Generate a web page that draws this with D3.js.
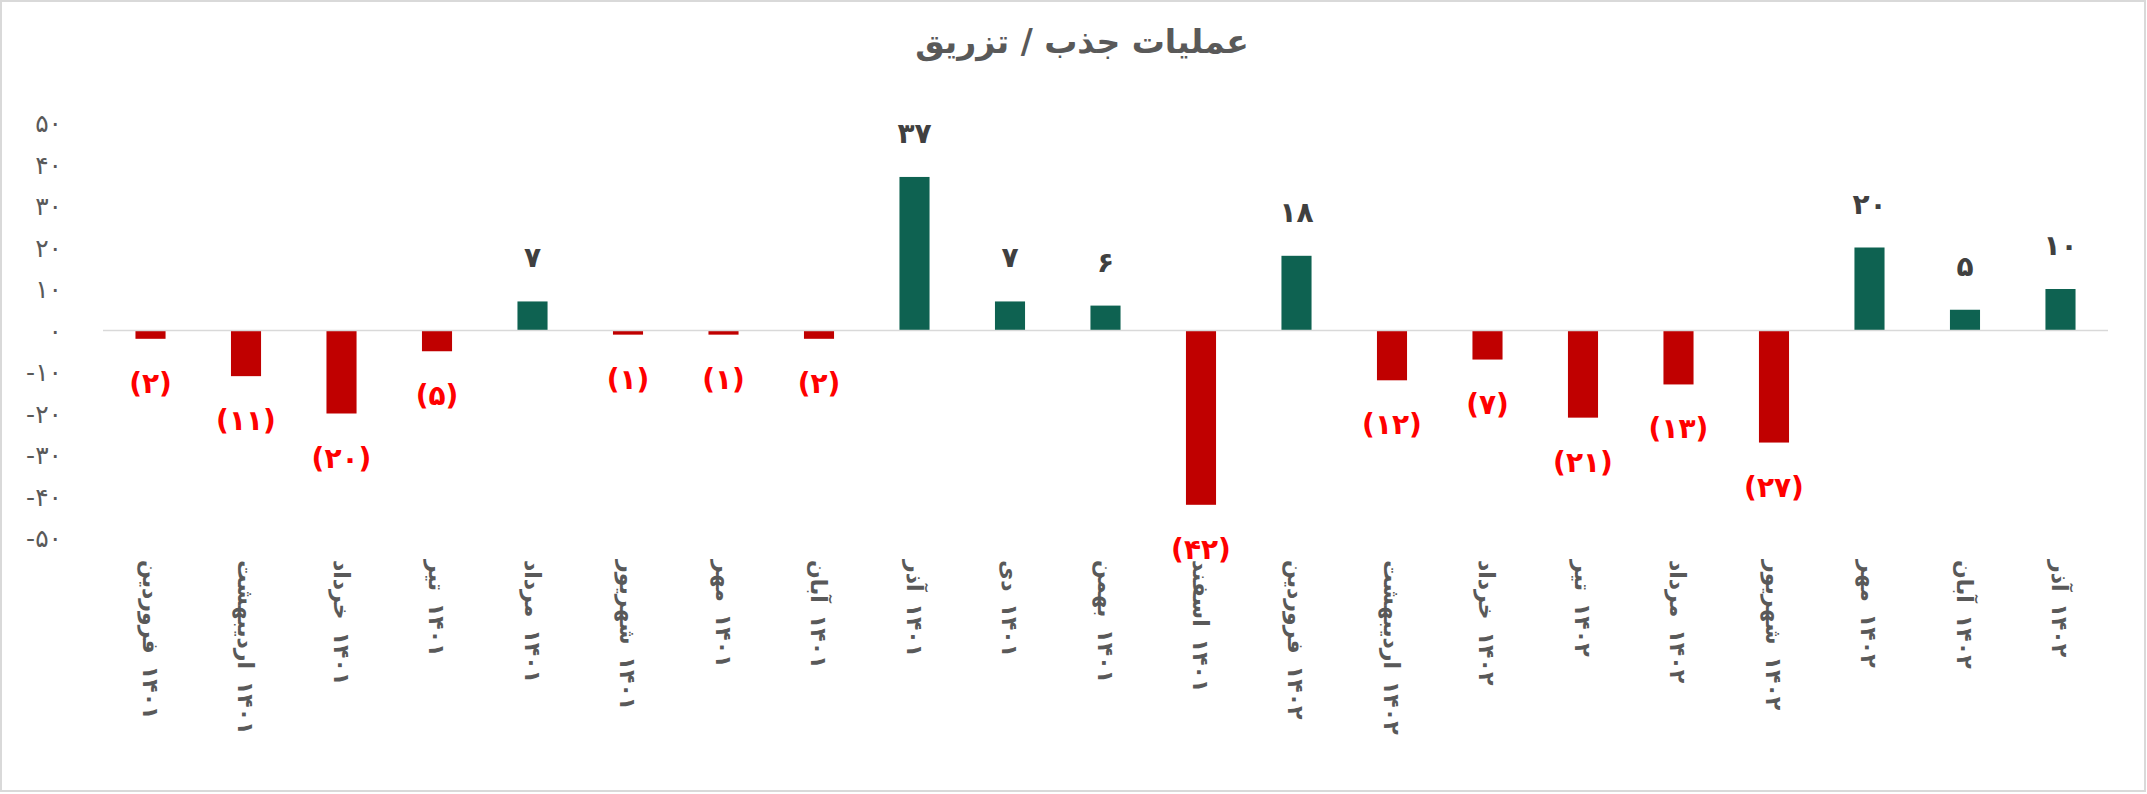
<!DOCTYPE html><html><head><meta charset="utf-8">
<script src="https://cdn.jsdelivr.net/npm/d3@7/dist/d3.min.js"></script>
<style>body{margin:0;background:#fff}</style></head><body>
<script>
const months=["فروردین","اردیبهشت","خرداد","تیر","مرداد","شهریور","مهر","آبان","آذر","دی","بهمن","اسفند","فروردین","اردیبهشت","خرداد","تیر","مرداد","شهریور","مهر","آبان","آذر"];
const years=["۱۴۰۱","۱۴۰۱","۱۴۰۱","۱۴۰۱","۱۴۰۱","۱۴۰۱","۱۴۰۱","۱۴۰۱","۱۴۰۱","۱۴۰۱","۱۴۰۱","۱۴۰۱","۱۴۰۲","۱۴۰۲","۱۴۰۲","۱۴۰۲","۱۴۰۲","۱۴۰۲","۱۴۰۲","۱۴۰۲","۱۴۰۲"];
const values=[-2,-11,-20,-5,7,-1,-1,-2,37,7,6,-42,18,-12,-7,-21,-13,-27,20,5,10];
const yTicks=[50,40,30,20,10,0,-10,-20,-30,-40,-50];
const title="عملیات جذب / تزریق";
const fa=n=>String(n).replace(/\d/g,d=>"۰۱۲۳۴۵۶۷۸۹"[d]);
const W=2147,H=794,font="'DejaVu Sans', sans-serif";
const svg=d3.select("body").append("svg").attr("width",W).attr("height",H);
svg.append("rect").attr("x",1).attr("y",1).attr("width",W-3).attr("height",H-4).attr("fill","#fff").attr("stroke","#d9d9d9").attr("stroke-width",2);
svg.append("text").attr("x",1082).attr("y",53).attr("text-anchor","middle").attr("font-family",font).attr("font-weight","bold").attr("font-size",33).attr("fill","#595959").attr("direction","rtl").text(title);
const cats=values.map((v,i)=>i);
const x=d3.scaleBand().domain(cats).range([103,2108]).paddingInner(0.685).paddingOuter(0.34);
const y=d3.scaleLinear().domain([-50,50]).range([538,123]);
svg.append("g").selectAll("text").data(yTicks).join("text").attr("x",62).attr("y",d=>y(d)+9).attr("text-anchor","end").attr("font-family",font).attr("font-size",25).attr("fill","#595959").attr("direction","ltr").text(d=>d<0?"-"+fa(-d):fa(d));
svg.append("g").selectAll("rect").data(values).join("rect").attr("x",(d,i)=>x(i)).attr("width",x.bandwidth()).attr("y",d=>y(Math.max(0,d))).attr("height",d=>Math.abs(y(d)-y(0))).attr("fill",d=>d>0?"#0e6251":"#c00000");
svg.append("line").attr("x1",103).attr("x2",2108).attr("y1",y(0)).attr("y2",y(0)).attr("stroke","#d9d9d9").attr("stroke-width",1.5);
svg.append("g").selectAll("text").data(values).join("text").attr("x",(d,i)=>x(i)+x.bandwidth()/2).attr("y",d=>d>0?y(d)-34:y(d)+54).attr("text-anchor","middle").attr("font-family",font).attr("font-weight","bold").attr("font-size",28).attr("fill",d=>d>0?"#404040":"#ff0000").attr("direction","ltr").text(d=>d>0?fa(d):"("+fa(-d)+")");
const lg=svg.append("g").selectAll("g").data(months).join("g").attr("transform",(d,i)=>`translate(${x(i)+x.bandwidth()/2-8},560) rotate(90)`);
lg.append("text").attr("class","m").attr("x",0).attr("font-family",font).attr("font-weight","bold").attr("font-size",22).attr("fill","#595959").text(d=>d);
lg.each(function(d,i){const g=d3.select(this);const w=g.select("text.m").node().getComputedTextLength();
 g.append("text").attr("x",w+12).attr("font-family",font).attr("font-weight","bold").attr("font-size",22).attr("fill","#595959").text(years[i]);});
</script></body></html>
